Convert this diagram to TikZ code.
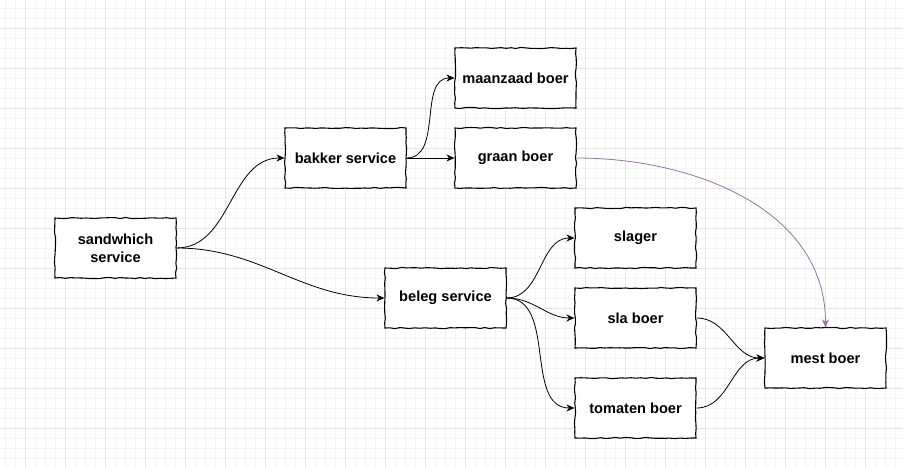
\documentclass[tikz,border=0pt]{standalone}
\usepackage{fontspec}
\setmainfont{Liberation Sans}
\usetikzlibrary{arrows.meta,decorations.pathmorphing}
\definecolor{gridminor}{HTML}{F4F4F4}
\definecolor{gridmajor}{HTML}{E4E4E4}
\definecolor{linkpurple}{HTML}{9673A6}
\begin{document}
\begin{tikzpicture}[x=1pt, y=-1pt, box node/.style={shape=rectangle, draw, fill=white, line width=1.1pt, minimum width=121pt, minimum height=60pt, inner sep=0pt, align=center, font=\fontsize{14.6}{18}\selectfont\bfseries, decorate, decoration={random steps, segment length=5pt, amplitude=0.6pt}}, link/.style={-{Stealth[length=8pt, width=7pt, inset=2.5pt]}, line width=0.8pt}]
\useasboundingbox (0,0) rectangle (903,468);
\fill[white] (0,0) rectangle (903,468);
% background grid
\foreach \x in {5,15,...,905} \draw[gridminor, line width=0.8pt] (\x,0) -- (\x,468);
\foreach \y in {8,18,...,468} \draw[gridminor, line width=0.8pt] (0,\y) -- (903,\y);
\foreach \x in {25,65,...,905} \draw[gridmajor, line width=0.8pt] (\x,0) -- (\x,468);
\foreach \y in {28,68,...,468} \draw[gridmajor, line width=0.8pt] (0,\y) -- (903,\y);
% boxes
\node[box node] (SW) at (115.5,248) {sandwhich\\service};
\node[box node] (BS) at (345.5,158) {bakker service};
\node[box node] (MZ) at (515.5,78) {maanzaad boer};
\node[box node] (GR) at (515.5,158) {graan boer};
\node[box node] (BL) at (445.5,298) {beleg service};
\node[box node] (SL) at (635.5,238) {slager};
\node[box node] (SB) at (635.5,318) {sla boer};
\node[box node] (TB) at (635.5,408) {tomaten boer};
\node[box node] (MB) at (825.5,358) {mest boer};
% connectors
\draw [link] (SW.east) to [out = 0, in = 180] (BS.west);
\draw [link] (SW.east) to [out = 0, in = 180] (BL.west);
\draw [link] (BS.east) to [out = 0, in = 180] (MZ.west);
\draw [link] (BS.east) -- (GR.west);
\draw [link] (BL.east) to [out = 0, in = 180] (SL.west);
\draw [link] (BL.east) to [out = 0, in = 180] (SB.west);
\draw [link] (BL.east) to [out = 0, in = 180] (TB.west);
\draw [link] (SB.east) to [out = 0, in = 180] (MB.west);
\draw [link] (TB.east) to [out = 0, in = 180] (MB.west);
\draw [link, linkpurple] (GR.east) to [out = 0, in = 90] (MB.north);
\end{tikzpicture}
\end{document}
